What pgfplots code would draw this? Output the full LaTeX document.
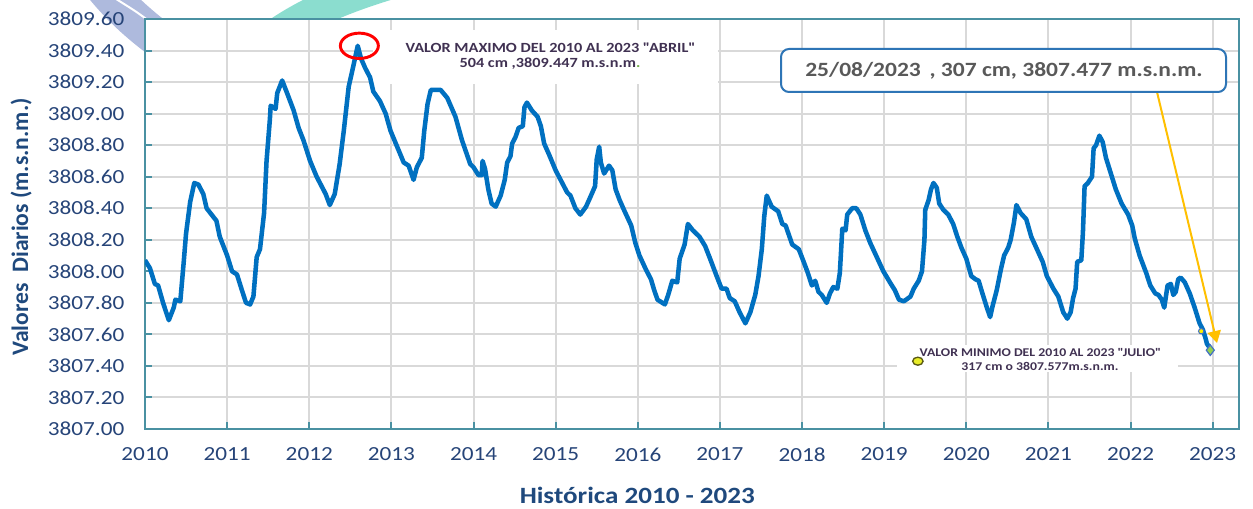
\documentclass[border=0pt]{standalone}
\usepackage{fontspec}
\setmainfont{Carlito}[FakeStretch=1.16]
\newfontfamily\plainfont{Carlito}
\usepackage{pgfplots}
\pgfplotsset{compat=1.18}
\usetikzlibrary{arrows.meta}
\definecolor{linecol}{RGB}{0,112,192}
\definecolor{axcol}{RGB}{74,145,162}
\definecolor{tickcol}{RGB}{38,68,120}
\definecolor{labcol}{RGB}{31,73,125}
\definecolor{gridcol}{RGB}{217,217,217}
\definecolor{maxcol}{RGB}{64,49,82}
\definecolor{boxcol}{RGB}{46,117,182}
\definecolor{calltext}{RGB}{89,89,89}
\definecolor{arrowcol}{RGB}{255,192,0}
\definecolor{purplearc}{RGB}{174,186,221}
\definecolor{tealarc}{RGB}{139,221,207}
\definecolor{dotgreen}{RGB}{112,173,71}
\definecolor{ylw}{RGB}{232,236,40}
\definecolor{ylwborder}{RGB}{90,90,20}
\definecolor{dmdfill}{RGB}{146,208,80}
\definecolor{dmdborder}{RGB}{68,114,196}

\pgfplotstableread{
x y
2010.00 3808.07
2010.06 3808.02
2010.12 3807.92
2010.16 3807.91
2010.22 3807.80
2010.29 3807.69
2010.35 3807.77
2010.37 3807.82
2010.43 3807.81
2010.47 3808.05
2010.50 3808.24
2010.55 3808.44
2010.60 3808.56
2010.65 3808.55
2010.71 3808.49
2010.75 3808.40
2010.87 3808.32
2010.91 3808.22
2011.00 3808.10
2011.06 3808.00
2011.12 3807.98
2011.18 3807.88
2011.23 3807.80
2011.28 3807.79
2011.32 3807.84
2011.36 3808.09
2011.40 3808.14
2011.45 3808.37
2011.48 3808.70
2011.52 3808.96
2011.53 3809.05
2011.59 3809.03
2011.61 3809.13
2011.67 3809.21
2011.73 3809.13
2011.81 3809.02
2011.87 3808.91
2011.93 3808.83
2012.01 3808.70
2012.09 3808.60
2012.20 3808.49
2012.25 3808.42
2012.31 3808.49
2012.37 3808.68
2012.42 3808.89
2012.48 3809.17
2012.54 3809.31
2012.59 3809.43
2012.63 3809.35
2012.68 3809.29
2012.74 3809.23
2012.78 3809.14
2012.86 3809.08
2012.93 3809.00
2012.99 3808.89
2013.07 3808.79
2013.15 3808.69
2013.21 3808.67
2013.27 3808.58
2013.31 3808.66
2013.37 3808.72
2013.40 3808.89
2013.44 3809.06
2013.48 3809.15
2013.54 3809.15
2013.60 3809.15
2013.68 3809.10
2013.78 3808.98
2013.86 3808.83
2013.96 3808.68
2014.00 3808.66
2014.06 3808.61
2014.10 3808.61
2014.11 3808.70
2014.14 3808.65
2014.18 3808.52
2014.22 3808.43
2014.27 3808.41
2014.33 3808.48
2014.38 3808.58
2014.41 3808.69
2014.45 3808.73
2014.47 3808.81
2014.51 3808.85
2014.55 3808.91
2014.60 3808.92
2014.62 3809.04
2014.65 3809.07
2014.71 3809.02
2014.78 3808.98
2014.82 3808.92
2014.86 3808.81
2014.92 3808.74
2015.00 3808.64
2015.08 3808.56
2015.14 3808.50
2015.18 3808.48
2015.24 3808.40
2015.30 3808.36
2015.37 3808.41
2015.43 3808.48
2015.48 3808.54
2015.50 3808.71
2015.53 3808.79
2015.55 3808.69
2015.59 3808.62
2015.65 3808.67
2015.69 3808.64
2015.73 3808.52
2015.78 3808.45
2015.84 3808.38
2015.92 3808.29
2015.97 3808.18
2016.02 3808.10
2016.10 3808.01
2016.16 3807.95
2016.20 3807.88
2016.24 3807.82
2016.33 3807.79
2016.37 3807.85
2016.42 3807.94
2016.48 3807.93
2016.51 3808.08
2016.57 3808.17
2016.61 3808.30
2016.67 3808.26
2016.75 3808.22
2016.82 3808.16
2016.88 3808.08
2016.96 3807.97
2017.02 3807.89
2017.08 3807.89
2017.12 3807.83
2017.18 3807.81
2017.24 3807.74
2017.31 3807.67
2017.37 3807.74
2017.43 3807.85
2017.47 3807.97
2017.51 3808.14
2017.54 3808.35
2017.57 3808.48
2017.63 3808.41
2017.71 3808.38
2017.76 3808.30
2017.80 3808.29
2017.88 3808.17
2017.96 3808.14
2018.02 3808.06
2018.07 3807.99
2018.12 3807.91
2018.16 3807.94
2018.20 3807.87
2018.24 3807.85
2018.30 3807.80
2018.34 3807.86
2018.38 3807.90
2018.43 3807.89
2018.46 3807.99
2018.49 3808.27
2018.53 3808.26
2018.55 3808.36
2018.61 3808.40
2018.66 3808.40
2018.71 3808.36
2018.77 3808.26
2018.83 3808.18
2018.91 3808.09
2018.99 3808.00
2019.07 3807.93
2019.13 3807.88
2019.18 3807.82
2019.24 3807.81
2019.32 3807.84
2019.36 3807.89
2019.42 3807.94
2019.46 3808.00
2019.49 3808.20
2019.50 3808.39
2019.54 3808.45
2019.57 3808.52
2019.60 3808.56
2019.64 3808.53
2019.67 3808.43
2019.72 3808.39
2019.78 3808.36
2019.84 3808.30
2019.89 3808.22
2019.94 3808.15
2020.00 3808.08
2020.06 3807.97
2020.11 3807.95
2020.15 3807.94
2020.19 3807.87
2020.25 3807.77
2020.29 3807.71
2020.32 3807.78
2020.37 3807.88
2020.42 3808.01
2020.46 3808.10
2020.51 3808.15
2020.54 3808.20
2020.58 3808.31
2020.61 3808.42
2020.66 3808.37
2020.73 3808.33
2020.79 3808.22
2020.86 3808.14
2020.93 3808.06
2020.98 3807.97
2021.06 3807.89
2021.12 3807.84
2021.18 3807.74
2021.23 3807.70
2021.27 3807.74
2021.30 3807.83
2021.33 3807.89
2021.35 3808.06
2021.40 3808.07
2021.42 3808.25
2021.44 3808.54
2021.48 3808.56
2021.53 3808.60
2021.55 3808.78
2021.58 3808.80
2021.62 3808.86
2021.66 3808.82
2021.70 3808.72
2021.76 3808.62
2021.82 3808.52
2021.89 3808.43
2021.97 3808.36
2022.02 3808.29
2022.05 3808.21
2022.11 3808.10
2022.19 3807.99
2022.24 3807.91
2022.30 3807.86
2022.34 3807.85
2022.38 3807.82
2022.41 3807.77
2022.45 3807.91
2022.49 3807.92
2022.52 3807.85
2022.55 3807.87
2022.58 3807.95
2022.61 3807.96
2022.66 3807.93
2022.72 3807.86
2022.78 3807.77
2022.84 3807.67
2022.88 3807.63
2022.91 3807.58
2022.93 3807.54
2022.97 3807.51
}\levels

\begin{document}
\begin{tikzpicture}
% decorative logo arcs (background, hidden by the white plot area)
\begin{scope}[x=0.75pt,y=-0.75pt,shift={(-108.75pt,321.75pt)}]
  \draw[purplearc, line width=28pt] (98,-20) .. controls (125,15) and (160,45) .. (230,85);
  \draw[white, line width=1.5pt] (110,-5) .. controls (125,5) and (135,10) .. (150,22);
  \draw[tealarc, line width=24pt] (262,45) .. controls (300,15) and (345,-5) .. (420,-25);
\end{scope}

\begin{axis}[
  at={(0,0)}, anchor=south west,
  width=820.5pt, height=307.5pt, scale only axis,
  xmin=2010, xmax=2023.32, ymin=3807, ymax=3809.6,
  axis background/.style={fill=white},
  axis line style={axcol, line width=1.5pt},
  tick style={axcol, line width=1.5pt},
  major tick length=5pt, tick align=inside, tick pos=left,
  grid=major, major grid style={gridcol, line width=1.5pt},
  xtick={2010,2011,2012,2013,2014,2015,2016,2017,2018,2019,2020,2021,2022,2023},
  xticklabels={2010,2011,2012,2013,2014,2015,2016,2017,2018,2019,2020,2021,2022,2023},
  ytick={3807,3807.2,3807.4,3807.6,3807.8,3808,3808.2,3808.4,3808.6,3808.8,3809,3809.2,3809.4,3809.6},
  yticklabels={3807.00,3807.20,3807.40,3807.60,3807.80,3808.00,3808.20,3808.40,3808.60,3808.80,3809.00,3809.20,3809.40,3809.60},
  tick label style={font=\fontsize{15}{18}\selectfont, text=tickcol, /pgf/number format/assume math mode=true},
  xticklabel style={yshift=-10.5pt},
  yticklabel style={xshift=-12pt},
  xlabel={Histórica 2010 - 2023},
  xlabel style={font=\bfseries\fontsize{17.5}{20}\selectfont, text=labcol, at={(axis description cs:0.45,-0.163)}, anchor=center},
  ylabel={Valores\ \ Diarios (m.s.n.m.)},
  ylabel style={font=\plainfont\bfseries\fontsize{17.7}{20}\selectfont, text=labcol, at={(axis description cs:-0.1133,0.493)}, anchor=center},
]
% white label backgrounds (cover grid, below the line)
\fill[white] (rel axis cs:0.2084,0.8415) rectangle (rel axis cs:0.5238,0.9732);
\fill[white] (rel axis cs:0.6874,0.139) rectangle (rel axis cs:0.9442,0.2049);

\addplot[linecol, line width=3.4pt, line join=round, mark=none] table[x=x,y=y] {\levels};

\addplot[only marks, mark=*, mark size=2pt, mark options={fill=yellow, draw=dmdborder, line width=0.8pt}] coordinates {(2022.86,3807.62)};
\addplot[only marks, mark=diamond*, mark size=4pt, mark options={fill=dmdfill, draw=dmdborder, line width=0.9pt}] coordinates {(2022.97,3807.50)};
\addplot[only marks, mark=*, mark size=3pt, mark options={fill=ylw, draw=ylwborder, line width=1pt, xscale=1.3}] coordinates {(2019.41,3807.43)};

\draw[red, line width=2.2pt] (axis cs:2012.61,3809.43) ellipse [x radius=14.25pt, y radius=9.5pt];
\end{axis}

\begin{scope}[x=0.75pt,y=-0.75pt,shift={(-108.75pt,321.75pt)}]
  \draw[arrowcol, line width=1.5pt, -{Triangle[length=9pt,width=10pt]}] (1157,92) -- (1217,343);
  \draw[boxcol, line width=1.5pt, fill=white, rounded corners=6pt] (781,49) rectangle (1226,92);
  \node[text=calltext, font=\bfseries\fontsize{15.2}{18}\selectfont, inner sep=0pt] at (1004,71) {25/08/2023 \,, 307 cm, 3807.477 m.s.n.m.};
  \node[align=center, text=maxcol, font=\bfseries\fontsize{10.5}{10.9}\selectfont, inner sep=0pt] at (550,56) {VALOR MAXIMO DEL 2010 AL 2023 \textquotedbl ABRIL\textquotedbl\\504 cm ,3809.447 m.s.n.m\textcolor{dotgreen}{.}};
  \node[align=center, text=maxcol, font=\bfseries\fontsize{8.9}{10.1}\selectfont, inner sep=0pt] at (1040,359.5) {VALOR MINIMO DEL 2010 AL 2023 \textquotedbl JULIO\textquotedbl\\317 cm o 3807.577m.s.n.m.};
  \pgfresetboundingbox
  \useasboundingbox (0,0) rectangle (1253,509);
\end{scope}
\end{tikzpicture}
\end{document}
